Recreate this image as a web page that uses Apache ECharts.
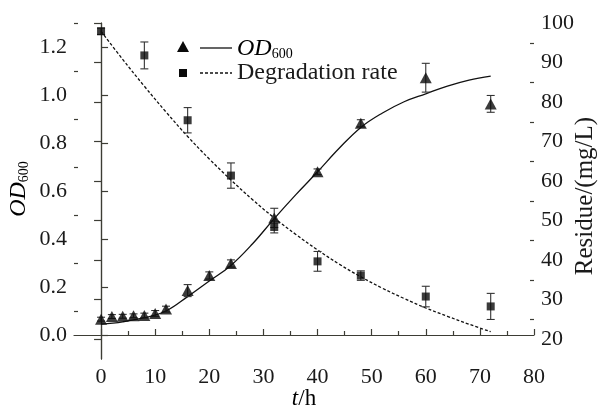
<!DOCTYPE html>
<html>
<head>
<meta charset="utf-8">
<script src="https://cdn.jsdelivr.net/npm/echarts@6/dist/echarts.min.js"></script>
<style>html,body{margin:0;padding:0;background:#fff}#c{width:598px;height:412px}</style>
</head>
<body>
<div id="c"></div>
<script>
// ---- data ----
const tOD = [0, 2, 4, 6, 8, 10, 12, 16, 20, 24, 32, 40, 48, 60, 72];
const od = [0.066, 0.077, 0.078, 0.080, 0.081, 0.090, 0.108, 0.185, 0.248, 0.298, 0.488, 0.680, 0.882, 1.072, 0.963];
const odErr = [0.008, 0.008, 0.008, 0.008, 0.010, 0.012, 0.012, 0.025, 0.015, 0.015, 0.040, 0.012, 0.015, 0.060, 0.035];

const tDeg = [0, 8, 16, 24, 32, 40, 48, 60, 72];
const deg = [97.9, 91.8, 75.4, 61.4, 48.4, 39.7, 36.1, 30.8, 28.3];
const degErr = [0.8, 3.4, 3.2, 3.2, 1.5, 2.5, 1.2, 2.6, 3.3];

const tFit = [0, 4, 8, 12, 16, 20, 24, 28, 32, 36, 40, 44, 48, 52, 56, 60, 64, 68, 72];
const odFit = [0.045, 0.055, 0.072, 0.100, 0.160, 0.225, 0.290, 0.380, 0.485, 0.585, 0.680, 0.778, 0.865, 0.925, 0.972, 1.005, 1.037, 1.062, 1.079];
const degFit = [97.9, 90.8, 84.0, 77.5, 71.3, 65.6, 60.3, 55.3, 50.7, 46.5, 42.6, 39.0, 35.8, 32.9, 30.3, 27.9, 25.8, 23.8, 21.9];

const xTicks = [0, 10, 20, 30, 40, 50, 60, 70, 80];
const xMinor = [5, 15, 25, 35, 45, 55, 65, 75];
const yLeftTicks = [0, 0.2, 0.4, 0.6, 0.8, 1.0, 1.2];
const yLeftMinor = [0.1, 0.3, 0.5, 0.7, 0.9, 1.1, 1.3];
const yRightTicks = [20, 30, 40, 50, 60, 70, 80, 90, 100];
const yRightMinor = [25, 35, 45, 55, 65, 75, 85, 95];

// ---- chart ----
const FONT = '"Liberation Serif", "DejaVu Serif", serif';
const AX = '#3d3d35';
const TXT = '#1a1a1a';
const chart = echarts.init(document.getElementById('c'));

const pairs = (xs, ys) => xs.map((x, i) => [x, ys[i]]);
const errData = (xs, ys, es) => xs.map((x, i) => [x, ys[i] - es[i], ys[i] + es[i]]);

function errRender(params, api) {
  const x = api.value(0);
  const p1 = api.coord([x, api.value(1)]);
  const p2 = api.coord([x, api.value(2)]);
  const hw = 4;
  const st = { stroke: '#333', lineWidth: 1.1 };
  return {
    type: 'group',
    children: [
      { type: 'line', shape: { x1: p1[0], y1: p1[1], x2: p2[0], y2: p2[1] }, style: st },
      { type: 'line', shape: { x1: p1[0] - hw, y1: p1[1], x2: p1[0] + hw, y2: p1[1] }, style: st },
      { type: 'line', shape: { x1: p2[0] - hw, y1: p2[1], x2: p2[0] + hw, y2: p2[1] }, style: st }
    ]
  };
}

const labelStyle = { fontFamily: FONT, fontSize: 22, color: TXT };

const baseAxisLine = { show: true, lineStyle: { color: AX, width: 1.2 } };

const richOD = {
  i: { fontFamily: FONT, fontSize: 24, fontStyle: 'italic', color: TXT, verticalAlign: 'bottom', lineHeight: 26 },
  s: { fontFamily: FONT, fontSize: 14, color: TXT, verticalAlign: 'bottom', lineHeight: 12, padding: [0, 0, 0, 0] }
};

const option = {
  animation: false,
  backgroundColor: '#fff',
  grid: { left: 74, right: 64, top: 23, bottom: 53, containLabel: false, outerBoundsMode: 'none' },
  xAxis: [
    {
      type: 'value', min: -5, max: 80,
      axisLine: baseAxisLine,
      axisTick: { show: true, inside: true, length: 6, lineStyle: { color: AX, width: 1.2 }, customValues: xTicks },
      axisLabel: Object.assign({ margin: 7, customValues: xTicks }, labelStyle),
      splitLine: { show: false }
    },
    {
      type: 'value', min: -5, max: 80, position: 'bottom',
      axisLine: { show: false },
      axisTick: { show: true, inside: true, length: 4, lineStyle: { color: AX, width: 1.2 }, customValues: xMinor },
      axisLabel: { show: false },
      splitLine: { show: false }
    }
  ],
  yAxis: [
    {
      type: 'value', min: -0.1, max: 1.3, position: 'left',
      axisLine: baseAxisLine,
      axisTick: { show: true, inside: true, length: 7, lineStyle: { color: AX, width: 1.2 }, customValues: yLeftTicks },
      axisLabel: Object.assign({ margin: 7, customValues: yLeftTicks, formatter: v => v.toFixed(1) }, labelStyle),
      splitLine: { show: false }
    },
    {
      type: 'value', min: 15, max: 100, position: 'right',
      axisLine: baseAxisLine,
      axisTick: { show: true, inside: true, length: 7, lineStyle: { color: AX, width: 1.2 }, customValues: yRightTicks },
      axisLabel: Object.assign({ margin: 7, customValues: yRightTicks }, labelStyle),
      splitLine: { show: false }
    },
    {
      type: 'value', min: -0.1, max: 1.3, position: 'left',
      axisLine: { show: false },
      axisTick: { show: true, inside: true, length: 4, lineStyle: { color: AX, width: 1.2 }, customValues: yLeftMinor },
      axisLabel: { show: false },
      splitLine: { show: false }
    },
    {
      type: 'value', min: 15, max: 100, position: 'right',
      axisLine: { show: false },
      axisTick: { show: true, inside: true, length: 4, lineStyle: { color: AX, width: 1.2 }, customValues: yRightMinor },
      axisLabel: { show: false },
      splitLine: { show: false }
    }
  ],
  series: [
    {
      name: 'OD fit', type: 'line', xAxisIndex: 0, yAxisIndex: 0, smooth: 0.4, showSymbol: false,
      data: pairs(tFit, odFit), lineStyle: { color: '#111', width: 1.3 }, z: 2, silent: true
    },
    {
      name: 'Deg fit', type: 'line', xAxisIndex: 0, yAxisIndex: 1, smooth: 0.4, showSymbol: false,
      data: pairs(tFit, degFit), lineStyle: { color: '#111', width: 1.3, type: [3, 2] }, z: 2, silent: true
    },
    {
      name: 'OD err', type: 'custom', xAxisIndex: 0, yAxisIndex: 0, renderItem: errRender,
      encode: { x: 0, y: [1, 2] }, data: errData(tOD, od, odErr), z: 3, silent: true
    },
    {
      name: 'Deg err', type: 'custom', xAxisIndex: 0, yAxisIndex: 1, renderItem: errRender,
      encode: { x: 0, y: [1, 2] }, data: errData(tDeg, deg, degErr), z: 3, silent: true
    },
    {
      name: 'OD600', type: 'scatter', xAxisIndex: 0, yAxisIndex: 0, symbol: 'triangle', symbolSize: [12, 11],
      data: pairs(tOD, od), itemStyle: { color: '#0a0a0a' }, z: 4
    },
    {
      name: 'Degradation rate', type: 'scatter', xAxisIndex: 0, yAxisIndex: 1, symbol: 'rect', symbolSize: [8, 8],
      data: pairs(tDeg, deg), itemStyle: { color: '#0a0a0a' }, z: 4
    }
  ],
  graphic: [
    // legend
    { type: 'polygon', shape: { points: [[183, 41], [189, 52], [177, 52]] }, style: { fill: '#0a0a0a' } },
    { type: 'line', shape: { x1: 200, y1: 48, x2: 232, y2: 48 }, style: { stroke: '#111', lineWidth: 1.3 } },
    { type: 'text', x: 237, y: 48, style: { text: '{i|OD}{s|600}', rich: richOD, align: 'left', verticalAlign: 'middle' } },
    { type: 'rect', shape: { x: 179, y: 69, width: 8, height: 8 }, style: { fill: '#0a0a0a' } },
    { type: 'line', shape: { x1: 200, y1: 73, x2: 232, y2: 73 }, style: { stroke: '#111', lineWidth: 1.3, lineDash: [3, 2] } },
    { type: 'text', x: 237, y: 73, style: { text: 'Degradation rate', fontFamily: FONT, fontSize: 24, fill: TXT, align: 'left', verticalAlign: 'middle' } },
    // axis titles
    { type: 'text', x: 18, y: 189, rotation: Math.PI / 2, style: { text: '{i|OD}{s|600}', rich: richOD, align: 'center', verticalAlign: 'middle' } },
    { type: 'text', x: 585, y: 196, rotation: Math.PI / 2, style: { text: 'Residue/(mg/L)', fontFamily: FONT, fontSize: 25, fill: TXT, align: 'center', verticalAlign: 'middle' } },
    { type: 'text', x: 304, y: 399, style: { text: '{i|t}{n|/h}', rich: {
        i: { fontFamily: FONT, fontSize: 23, fontStyle: 'italic', color: TXT },
        n: { fontFamily: FONT, fontSize: 23, color: TXT } }, align: 'center', verticalAlign: 'middle' } }
  ]
};
chart.setOption(option);
</script>
</body>
</html>
